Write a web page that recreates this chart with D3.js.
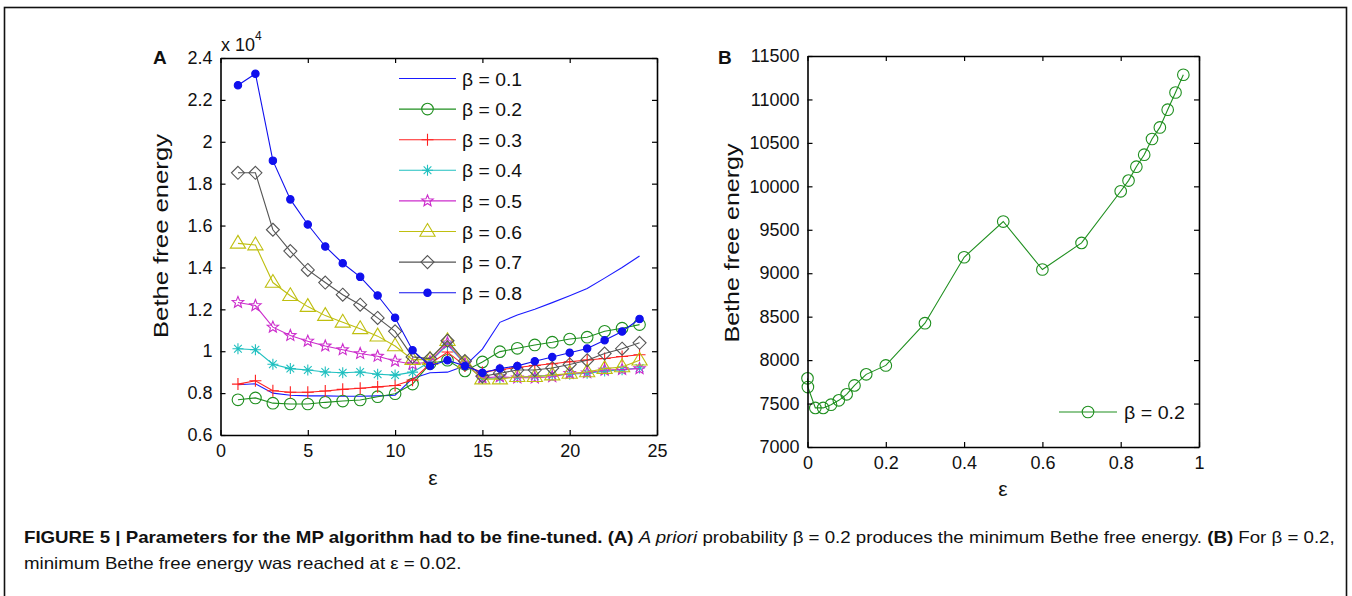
<!DOCTYPE html>
<html>
<head>
<meta charset="utf-8">
<script src="https://cdn.jsdelivr.net/npm/d3@7"></script>
<style>
  body { margin: 0; background: #fff; }
  svg { display: block; }
  text { font-family: Arial, "Liberation Sans", Helvetica, sans-serif; fill: #111; }
</style>
</head>
<body>
<svg id="fig" width="1352" height="596"></svg>
<script>
// ---- data, panel A (energy in units of 1e4) ----
var epsA = d3.range(1, 25);
var betaLabels = ['0.1', '0.2', '0.3', '0.4', '0.5', '0.6', '0.7', '0.8'];
var beta01 = [0.84, 0.845, 0.80, 0.79, 0.787, 0.787, 0.785, 0.785, 0.787, 0.79, 0.87, 0.897, 0.90, 0.93, 1.01, 1.138, 1.173, 1.20, 1.232, 1.265, 1.30, 1.349, 1.40, 1.455];
var beta02 = [0.768, 0.777, 0.752, 0.748, 0.748, 0.756, 0.762, 0.767, 0.783, 0.797, 0.843, 0.941, 0.957, 0.906, 0.949, 0.998, 1.014, 1.03, 1.043, 1.058, 1.067, 1.095, 1.11, 1.127];
var beta03 = [0.843, 0.859, 0.811, 0.804, 0.804, 0.81, 0.818, 0.823, 0.83, 0.836, 0.862, 0.94, 0.996, 0.93, 0.90, 0.912, 0.922, 0.932, 0.94, 0.95, 0.958, 0.965, 0.975, 0.983];
var beta04 = [1.012, 1.007, 0.938, 0.917, 0.91, 0.901, 0.897, 0.901, 0.89, 0.886, 0.90, 0.95, 1.03, 0.94, 0.87, 0.872, 0.876, 0.88, 0.885, 0.89, 0.895, 0.905, 0.912, 0.92];
var beta05 = [1.233, 1.218, 1.115, 1.075, 1.048, 1.025, 1.007, 0.989, 0.976, 0.953, 0.938, 0.95, 1.04, 0.94, 0.873, 0.878, 0.873, 0.873, 0.878, 0.894, 0.897, 0.91, 0.913, 0.917];
var beta06 = [1.515, 1.507, 1.328, 1.265, 1.213, 1.17, 1.138, 1.107, 1.072, 1.025, 0.96, 0.96, 1.05, 0.943, 0.867, 0.867, 0.878, 0.878, 0.886, 0.894, 0.901, 0.917, 0.925, 0.957];
var beta07 = [1.852, 1.852, 1.58, 1.478, 1.388, 1.328, 1.27, 1.222, 1.159, 1.095, 0.973, 0.965, 1.05, 0.953, 0.88, 0.895, 0.91, 0.91, 0.92, 0.937, 0.957, 0.989, 1.012, 1.04];
var beta08 = [2.27, 2.325, 1.91, 1.725, 1.605, 1.50, 1.42, 1.355, 1.266, 1.16, 1.005, 0.93, 0.957, 0.93, 0.897, 0.917, 0.93, 0.952, 0.972, 0.993, 1.013, 1.052, 1.094, 1.154];
var seriesA = [beta01, beta02, beta03, beta04, beta05, beta06, beta07, beta08];
var ticksAx = [0, 5, 10, 15, 20, 25];
var ticksAy = [0.6, 0.8, 1, 1.2, 1.4, 1.6, 1.8, 2, 2.2, 2.4];

// ---- data, panel B (beta = 0.2) ----
var epsB = [0, 0.001, 0.02, 0.04, 0.06, 0.08, 0.1, 0.12, 0.15, 0.2, 0.3, 0.4, 0.5, 0.6, 0.7, 0.8, 0.82, 0.84, 0.86, 0.88, 0.9, 0.92, 0.94, 0.96];
var energyB = [7790, 7690, 7450, 7450, 7487, 7537, 7606, 7709, 7836, 7939, 8425, 9184, 9595, 9043, 9349, 9943, 10066, 10226, 10364, 10545, 10678, 10882, 11080, 11284];
var ticksBx = [0, 0.2, 0.4, 0.6, 0.8, 1];
var ticksBy = [7000, 7500, 8000, 8500, 9000, 9500, 10000, 10500, 11000, 11500];

// styles per beta
var colors = ['#1a1aff', '#1f8f1f', '#ff2020', '#20c0c0', '#cc2ccc', '#bfbf10', '#555555', '#1010ee'];
var markers = ['none', 'circle', 'plus', 'asterisk', 'star', 'triangle', 'diamond', 'dot'];

var svg = d3.select('#fig');

// outer frame of the figure
svg.append('rect').attr('x', 4.5).attr('y', 7.5).attr('width', 1342).attr('height', 600)
  .attr('fill', 'none').attr('stroke', '#111').attr('stroke-width', 1.6);

function markerPath(type) {
  var s, p;
  if (type === 'circle') return d3.symbol(d3.symbolCircle, Math.PI * 5.8 * 5.8)();
  if (type === 'dot') return d3.symbol(d3.symbolCircle, Math.PI * 3.7 * 3.7)();
  if (type === 'plus') { s = 6; return 'M' + (-s) + ',0H' + s + 'M0,' + (-s) + 'V' + s; }
  if (type === 'asterisk') {
    s = 5.5; var d = s * 0.7;
    return 'M' + (-s) + ',0H' + s + 'M0,' + (-s) + 'V' + s +
      'M' + (-d) + ',' + (-d) + 'L' + d + ',' + d + 'M' + (-d) + ',' + d + 'L' + d + ',' + (-d);
  }
  if (type === 'triangle') { s = 8; return 'M0,' + (-s) + 'L' + (s * 0.95) + ',' + (s * 0.6) + 'L' + (-s * 0.95) + ',' + (s * 0.6) + 'Z'; }
  if (type === 'diamond') { s = 6.5; return 'M0,' + (-s) + 'L' + s + ',0L0,' + s + 'L' + (-s) + ',0Z'; }
  if (type === 'star') {
    p = [];
    for (var k = 0; k < 10; k++) {
      var r = k % 2 ? 2.6 : 6, a = -Math.PI / 2 + k * Math.PI / 5;
      p.push([r * Math.cos(a), r * Math.sin(a)]);
    }
    return 'M' + p.map(function(q) { return q[0].toFixed(2) + ',' + q[1].toFixed(2); }).join('L') + 'Z';
  }
  return null;
}

function drawMarker(g, type, color, x, y) {
  var path = markerPath(type);
  if (!path) return;
  g.append('path')
    .attr('d', path)
    .attr('transform', 'translate(' + x + ',' + y + ')')
    .attr('fill', type === 'dot' ? color : 'none')
    .attr('stroke', color)
    .attr('stroke-width', 1.1);
}

// MATLAB-like box with inward ticks on all sides
function frame(x, y, xt, yt, xfmt, yfmt, xlabDy) {
  var g = svg.append('g');
  var x0 = x.range()[0], x1 = x.range()[1], y0 = y.range()[0], y1 = y.range()[1];
  g.append('g').attr('transform', 'translate(0,' + y0 + ')')
    .call(d3.axisBottom(x).tickValues(xt).tickSizeInner(-5).tickSizeOuter(0).tickPadding(xlabDy).tickFormat(xfmt));
  g.append('g').attr('transform', 'translate(0,' + y1 + ')')
    .call(d3.axisTop(x).tickValues(xt).tickSizeInner(-5).tickSizeOuter(0).tickFormat(''));
  g.append('g').attr('transform', 'translate(' + x0 + ',0)')
    .call(d3.axisLeft(y).tickValues(yt).tickSizeInner(-5).tickSizeOuter(0).tickPadding(8).tickFormat(yfmt));
  g.append('g').attr('transform', 'translate(' + x1 + ',0)')
    .call(d3.axisRight(y).tickValues(yt).tickSizeInner(-5).tickSizeOuter(0).tickFormat(''));
  g.selectAll('.domain').attr('stroke', '#000').attr('stroke-width', 1.6);
  g.selectAll('.tick line').attr('stroke', '#000').attr('stroke-width', 1.2);
  g.selectAll('.tick text').attr('font-size', 18).attr('font-family', 'Arial, "Liberation Sans", sans-serif').attr('fill', '#111');
  return g;
}

// ---------------- panel A ----------------
var xA = d3.scaleLinear().domain([0, 25]).range([220.5, 657]);
var yA = d3.scaleLinear().domain([0.6, 2.4]).range([435, 58]);

var plotA = svg.append('g');
seriesA.forEach(function(vals, i) {
  var pts = epsA.map(function(e, j) { return [xA(e), yA(vals[j])]; });
  var g = plotA.append('g');
  g.append('path').attr('d', d3.line()(pts))
    .attr('fill', 'none').attr('stroke', colors[i]).attr('stroke-width', 1.1);
  pts.forEach(function(p) { drawMarker(g, markers[i], colors[i], p[0], p[1]); });
});

frame(xA, yA, ticksAx, ticksAy, d3.format('d'), function(d) { return d3.format('')(+d.toFixed(1)); }, 9);

// legend A
var legA = svg.append('g');
betaLabels.forEach(function(b, i) {
  var ly = 78.5 + i * 30.6;
  legA.append('line').attr('x1', 399).attr('x2', 456).attr('y1', ly).attr('y2', ly)
    .attr('stroke', colors[i]).attr('stroke-width', 1.1);
  drawMarker(legA, markers[i], colors[i], 427.5, ly);
  legA.append('text').attr('x', 462).attr('y', ly + 7).attr('font-size', 18.5)
    .attr('textLength', 60).attr('lengthAdjust', 'spacingAndGlyphs').text('β = ' + b);
});

svg.append('text').attr('x', 153).attr('y', 64).attr('font-size', 19).attr('font-weight', 'bold').text('A');
var expo = svg.append('text').attr('x', 221).attr('y', 51).attr('font-size', 18);
expo.append('tspan').text('x 10');
expo.append('tspan').attr('dy', -11).attr('font-size', 12).text('4');
svg.append('text').attr('transform', 'translate(168,236) rotate(-90)').attr('text-anchor', 'middle')
  .attr('font-size', 20).attr('textLength', 204).attr('lengthAdjust', 'spacingAndGlyphs').text('Bethe free energy');
svg.append('text').attr('x', 433).attr('y', 485).attr('text-anchor', 'middle').attr('font-size', 21).text('ε');

// ---------------- panel B ----------------
var xB = d3.scaleLinear().domain([0, 1]).range([807.5, 1199]);
var yB = d3.scaleLinear().domain([7000, 11500]).range([447, 56]);
var gB = svg.append('g');
var ptsB = epsB.map(function(e, j) { return [xB(e), yB(energyB[j])]; });
gB.append('path').attr('d', d3.line()(ptsB)).attr('fill', 'none').attr('stroke', colors[1]).attr('stroke-width', 1.1);
ptsB.forEach(function(p) { drawMarker(gB, 'circle', colors[1], p[0], p[1]); });

frame(xB, yB, ticksBx, ticksBy, function(d) { return d3.format('')(+d.toFixed(1)); }, d3.format('d'), 9);

var legB = svg.append('g');
legB.append('line').attr('x1', 1059).attr('x2', 1117).attr('y1', 412).attr('y2', 412)
  .attr('stroke', colors[1]).attr('stroke-width', 1.1);
drawMarker(legB, 'circle', colors[1], 1088, 412);
legB.append('text').attr('x', 1124).attr('y', 419).attr('font-size', 18.5)
  .attr('textLength', 61).attr('lengthAdjust', 'spacingAndGlyphs').text('β = 0.2');

svg.append('text').attr('x', 718).attr('y', 64).attr('font-size', 19).attr('font-weight', 'bold').text('B');
svg.append('text').attr('transform', 'translate(739,243) rotate(-90)').attr('text-anchor', 'middle')
  .attr('font-size', 20).attr('textLength', 199).attr('lengthAdjust', 'spacingAndGlyphs').text('Bethe free energy');
svg.append('text').attr('x', 1003).attr('y', 496).attr('text-anchor', 'middle').attr('font-size', 21).text('ε');

// ---------------- caption ----------------
var capFont = '"Liberation Sans Narrow", "Roboto Condensed", "DejaVu Sans Condensed", Arial, sans-serif';
var cap1 = svg.append('text').attr('x', 0).attr('y', 0).attr('font-size', 16.5).attr('font-family', capFont).attr('fill', '#222');
cap1.append('tspan').attr('font-weight', 'bold').text('FIGURE 5 | Parameters for the MP algorithm had to be fine-tuned. (A)');
cap1.append('tspan').text(' ');
cap1.append('tspan').attr('font-style', 'italic').text('A priori');
cap1.append('tspan').text(' probability β = 0.2 produces the minimum Bethe free energy. ');
cap1.append('tspan').attr('font-weight', 'bold').text('(B)');
cap1.append('tspan').text(' For β = 0.2,');
var cap2 = svg.append('text').attr('x', 0).attr('y', 0).attr('font-size', 16.5).attr('font-family', capFont).attr('fill', '#222')
  .text('minimum Bethe free energy was reached at ε = 0.02.');
var w1 = cap1.node().getComputedTextLength();
var sx = (1336 - 24) / w1;
cap1.attr('transform', 'translate(24,543) scale(' + sx + ',1)');
cap2.attr('transform', 'translate(24,569) scale(' + sx + ',1)');
</script>
</body>
</html>
